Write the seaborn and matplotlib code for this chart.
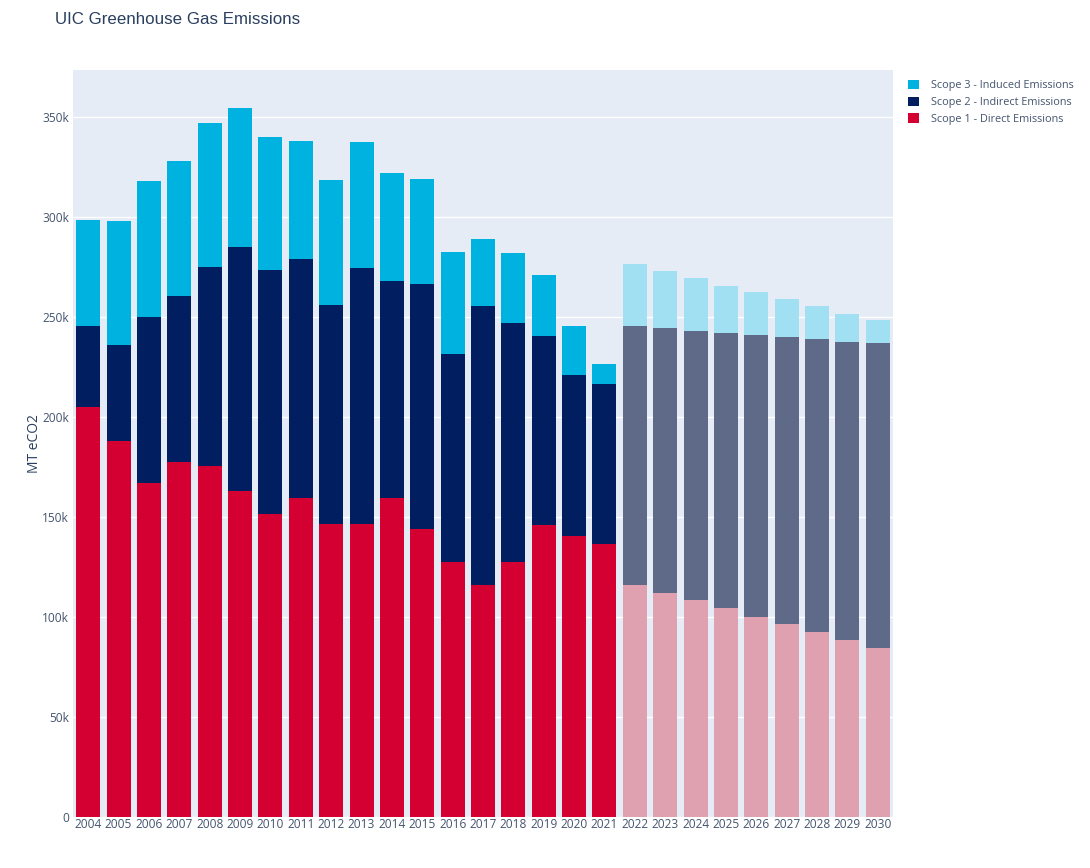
import numpy as np
import pandas as pd
import matplotlib
matplotlib.use("Agg")
import matplotlib.pyplot as plt
from matplotlib.patches import Patch
import seaborn as sns

years = [str(y) for y in range(2004, 2031)]
scope1 = [205000, 188000, 167000, 177500, 175500, 163000, 151500, 159500, 146500, 146500,
          159500, 144000, 127500, 116000, 127500, 146000, 140500, 136500,
          116000, 112000, 108500, 104500, 100000, 96500, 92500, 88500, 84500]
scope2 = [40500, 48000, 83000, 83000, 99500, 122000, 122000, 119500, 109500, 128000,
          108500, 122500, 104000, 139500, 119500, 94500, 80500, 80000,
          129500, 132500, 134500, 137500, 141000, 143500, 146500, 149000, 152500]
scope3 = [53000, 62000, 68000, 67500, 72000, 69500, 66500, 59000, 62500, 63000,
          54000, 52500, 51000, 33500, 35000, 30500, 24500, 10000,
          31000, 28500, 26500, 23500, 21500, 19000, 16500, 14000, 11500]
first_projected = "2022"

labels = ["Scope 3 - Induced Emissions", "Scope 2 - Indirect Emissions", "Scope 1 - Direct Emissions"]
colors_actual = ["#00b2e0", "#001e60", "#d50032"]
colors_proj = ["#a0e0f2", "#5e6a88", "#dfa1af"]

df = pd.DataFrame({"year": years, "s1": scope1, "s2": scope2, "s3": scope3})
df["c2"] = df["s1"] + df["s2"]
df["c3"] = df["c2"] + df["s3"]

sns.set_theme(style="white")
plt.rcParams["font.family"] = ["Open Sans", "DejaVu Sans"]
text_color = "#2a3f5f"
tick_color = "#44546e"

fig = plt.figure(figsize=(10.9, 8.68), dpi=100)
ax = fig.add_axes([73 / 1090, 1 - 817 / 868, (893 - 73) / 1090, (817 - 70) / 868])
ax.set_facecolor("#e5ecf6")

proj_idx = years.index(first_projected)
for col, ca, cp in [("c3", colors_actual[0], colors_proj[0]),
                    ("c2", colors_actual[1], colors_proj[1]),
                    ("s1", colors_actual[2], colors_proj[2])]:
    pal = {y: (ca if i < proj_idx else cp) for i, y in enumerate(years)}
    sns.barplot(data=df, x="year", y=col, hue="year", palette=pal, order=years,
                hue_order=years, dodge=False, legend=False, errorbar=None,
                saturation=1, width=0.79, linewidth=0, ax=ax)

ax.set_xlim(-0.5, len(years) - 0.5)
ax.set_ylim(0, 373500)
yt = np.arange(0, 350001, 50000)
ax.set_yticks(yt)
ax.set_yticklabels(["0" if v == 0 else f"{v // 1000}k" for v in yt])
ax.grid(axis="y", color="white", linewidth=1)
ax.grid(axis="x", visible=False)
ax.set_axisbelow(True)
for s in ax.spines.values():
    s.set_visible(False)
ax.tick_params(axis="both", length=0, labelsize=8.6, colors=tick_color, pad=3)
ax.tick_params(axis="x", pad=1)
ax.set_xlabel("")
ax.set_ylabel("MT eCO2", fontsize=10, color=text_color, labelpad=0)

fig.text(55 / 1090, 1 - 20 / 868, "UIC Greenhouse Gas Emissions", fontsize=12.2,
         color=text_color, va="center", ha="left", family=["Liberation Sans", "DejaVu Sans"])

handles = [Patch(facecolor=c, edgecolor="none") for c in colors_actual]
fig.legend(handles, labels, loc="upper left", bbox_to_anchor=(906 / 1090, 1 - 77.5 / 868),
           frameon=False, fontsize=7.85, labelcolor=tick_color, handlelength=0.95,
           handleheight=0.95, handletextpad=1.1, labelspacing=0.5, borderaxespad=0,
           borderpad=0.2)

fig.savefig("out.png", dpi=100)
